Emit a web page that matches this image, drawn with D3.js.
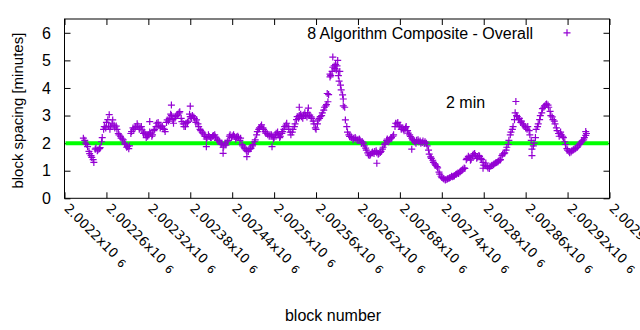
<!DOCTYPE html>
<html>
<head>
<meta charset="utf-8">
<script src="https://cdn.jsdelivr.net/npm/d3@7/dist/d3.min.js"></script>
<style>
  html, body { margin: 0; padding: 0; background: #fff; }
  svg { display: block; }
  text { font-family: "Liberation Sans", Arial, sans-serif; fill: #000; }
</style>
</head>
<body>
<svg id="chart" width="640" height="330"></svg>
<script>
// ---------------- data ----------------
const blockBase = 2002200;
const xTickValues = [2002200, 2002260, 2002320, 2002380, 2002440, 2002500, 2002560,
                     2002620, 2002680, 2002740, 2002800, 2002860, 2002920, 2002980];
const xTickMantissa = ["2.0022", "2.00226", "2.00232", "2.00238", "2.00244", "2.0025", "2.00256",
                       "2.00262", "2.00268", "2.00274", "2.0028", "2.00286", "2.00292", "2.00298"];
const yTickValues = [0, 1, 2, 3, 4, 5, 6];
const targetSpacing = 2;
const seriesName = "8 Algorithm Composite - Overall";

// block number offsets (from blockBase) and block spacing in minutes
const blockOffset = [
  27,30,33,36,39,42,45,48,51,54,57,60,63,66,69,72,75,78,81,84,87,90,93,96,99,
  102,105,108,111,114,117,120,123,126,129,132,135,138,141,144,147,150,153,156,159,
  162,165,168,171,174,177,180,183,186,189,192,195,198,201,204,207,210,213,216,219,
  222,225,228,231,234,237,240,243,246,249,252,255,258,261,264,267,270,273,276,279,
  282,285,288,291,294,297,300,303,306,309,312,315,318,321,324,327,330,333,336,339,
  342,345,348,351,354,357,360,363,366,369,372,375,378,381,384,387,390,393,396,399,
  402,405,408,411,414,417,420,423,426,429,432,435,438,441,444,447,450,453,456,459,
  462,465,468,471,474,477,480,483,486,489,492,495,498,501,504,507,510,513,516,519,
  522,525,528,531,534,537,540,543,546,549,552,555,558,561,564,567,570,573,576,579,
  582,585,588,591,594,597,600,603,606,609,612,615,618,621,624,627,630,633,636,639,
  642,645,648,651,654,657,660,663,666,669,672,675,678,681,684,687,690,693,696,699,
  702,705,708,711,714,717,720,723,726,729,732,735,738,741,744,747,
  64,153,180,227,261,203,297,336,349,384,391,376,399,447,497,646,669,599,746,122,
  380,388,394
];
const spacing = [
  2.18,2.0,1.87,1.62,1.48,1.3,1.82,1.76,1.84,2.2,2.6,2.75,2.6,2.62,2.84,2.55,2.5,2.3,2.18,2.12,1.95,1.88,1.9,2.42,2.5,
  2.6,2.62,2.55,2.48,2.4,2.2,2.3,2.36,2.3,2.5,2.72,2.65,2.6,2.54,2.42,2.84,2.9,3.0,2.72,2.96,
  3.05,3.14,2.78,2.6,2.72,2.8,2.96,3.0,2.9,2.84,2.6,2.45,2.36,2.24,2.2,2.24,2.2,2.28,2.22,2.1,
  2.05,2.0,1.9,1.93,2.1,2.3,2.26,2.24,2.22,2.2,2.18,1.9,1.8,1.72,1.78,1.82,1.95,2.12,2.42,2.55,
  2.66,2.5,2.36,2.3,2.3,2.25,2.2,2.36,2.3,2.25,2.42,2.6,2.72,2.5,2.3,2.5,2.7,2.96,3.0,2.96,
  3.02,3.0,3.1,3.02,2.9,2.7,2.5,2.84,2.96,3.1,3.3,3.4,3.76,4.45,4.75,4.7,4.8,4.25,3.93,3.6,
  2.84,2.4,2.24,2.2,2.18,2.15,2.12,2.1,2.05,1.9,1.75,1.57,1.6,1.68,1.7,1.65,1.62,1.7,1.85,2.0,
  2.15,2.12,2.2,2.3,2.72,2.75,2.65,2.55,2.45,2.6,2.36,2.24,2.12,2.05,2.1,2.05,2.0,2.08,2.05,1.9,
  1.6,1.45,1.3,1.2,1.1,0.88,0.75,0.7,0.68,0.72,0.75,0.78,0.82,0.88,0.9,0.98,1.05,1.08,1.45,1.48,
  1.42,1.6,1.55,1.5,1.52,1.4,1.2,1.28,1.1,1.15,1.2,1.25,1.3,1.35,1.4,1.6,1.65,1.85,2.1,2.4,
  2.6,3.1,2.96,2.9,2.8,2.65,2.55,2.6,2.3,1.78,2.0,2.5,2.7,3.0,3.25,3.35,3.42,3.3,3.0,2.85,
  2.7,2.45,2.25,2.3,2.2,1.95,1.75,1.65,1.72,1.78,1.82,1.9,2.0,2.08,2.2,2.35,
  3.03,3.38,3.34,1.63,1.51,1.87,1.87,3.3,3.27,5.12,5.0,3.8,3.35,1.27,1.78,3.51,1.55,1.09,2.42,2.78,
  4.5,4.85,4.6
];
// in-between blocks: [offset, spacing]
const spacingBetween = [
  [29,2.1],[32,1.95],[35,1.7],[38,1.55],[41,1.4],[44,1.78],[47,1.72],[50,1.8],[53,2.05],[56,2.5],
  [59,2.55],[62,2.85],[65,2.5],[68,2.7],[71,2.65],[74,2.62],[77,2.35],[80,2.25],[83,2.15],[86,2.0],
  [89,1.85],[92,1.8],[95,2.35],[98,2.55],[101,2.55],[104,2.7],[107,2.5],[110,2.6],[113,2.35],[116,2.3],
  [119,2.25],[122,2.4],[125,2.25],[128,2.45],[131,2.6],[134,2.75],[137,2.55],[140,2.62],[143,2.5],[146,2.75],
  [149,2.8],[152,3.05],[155,2.85],[158,2.9],[161,3.0],[164,3.1],[167,2.9],[170,2.7],[173,2.6],[176,2.75],
  [179,3.05],[182,2.9],[185,2.95],[188,2.75],[191,2.7],[194,2.5],[197,2.4],[200,2.3],[203,2.15],[206,2.3],
  [209,2.2],[212,2.25],[215,2.3],[218,2.15],[221,2.1],[224,1.95],[227,1.85],[230,2.0],[233,2.05],[236,2.25],
  [239,2.2],[242,2.3],[245,2.15],[248,2.25],[251,2.1],[254,1.95],[257,1.85],[260,1.75],[263,1.7],[266,1.8],
  [269,1.9],[272,2.05],[275,2.3],[278,2.5],[281,2.6],[284,2.55],[287,2.42],[290,2.35],[293,2.25],[296,2.3],
  [299,2.15],[302,2.3],[305,2.4],[308,2.2],[311,2.35],[314,2.5],[317,2.65],[320,2.6],[323,2.4],[326,2.4],
  [329,2.6],[332,2.85],[335,2.9],[338,3.05],[341,2.9],[344,3.1],[347,2.95],[350,3.0],[353,2.95],[356,2.8],
  [359,2.55],[362,2.7],[365,2.9],[368,3.0],[371,3.2],[374,3.35],[377,3.5],[380,4.4],[383,4.6],[386,4.8],
  [389,4.65],[392,4.45],[395,4.1],[398,3.75],[401,3.3],[404,2.6],[407,2.3],[410,2.25],[413,2.12],[416,2.2],
  [419,2.1],[422,2.15],[425,2.0],[428,2.0],[431,1.82],[434,1.65],[437,1.55],[440,1.65],[443,1.62],[446,1.72],
  [449,1.6],[452,1.66],[455,1.78],[458,1.95],[461,2.1],[464,2.05],[467,2.18],[470,2.25],[473,2.6],[476,2.7],
  [479,2.6],[482,2.5],[485,2.5],[488,2.55],[491,2.45],[494,2.3],[497,2.18],[500,2.1],[503,2.0],[506,2.12],
  [509,2.08],[512,2.02],[515,2.0],[518,2.0],[521,1.75],[524,1.5],[527,1.38],[530,1.25],[533,1.15],[536,0.95],
  [539,0.8],[542,0.72],[545,0.66],[548,0.7],[551,0.74],[554,0.8],[557,0.8],[560,0.86],[563,0.92],[566,0.95],
  [569,1.02],[572,1.1],[575,1.4],[578,1.52],[581,1.38],[584,1.55],[587,1.62],[590,1.45],[593,1.55],[596,1.45],
  [599,1.3],[602,1.18],[605,1.15],[608,1.08],[611,1.18],[614,1.22],[617,1.28],[620,1.32],[623,1.38],[626,1.55],
  [629,1.62],[632,1.75],[635,1.95],[638,2.3],[641,2.5],[644,2.85],[647,3.0],[650,2.85],[653,2.75],[656,2.7],
  [659,2.6],[662,2.5],[665,2.45],[668,2.1],[671,1.9],[674,2.2],[677,2.6],[680,2.85],[683,3.1],[686,3.3],
  [689,3.4],[692,3.38],[695,3.15],[698,2.95],[701,2.8],[704,2.55],[707,2.35],[710,2.4],[713,2.25],[716,2.05],
  [719,1.8],[722,1.7],[725,1.68],[728,1.75],[731,1.8],[734,1.85],[737,1.95],[740,2.05],[743,2.12],[746,2.28]
];

// ---------------- layout ----------------
const plot = { left: 64.5, right: 609.5, top: 19, bottom: 198.3 };
const purple = "#9400d3";
const green = "#00ff00";

const svg = d3.select("#chart");
const x = d3.scaleLinear().domain([xTickValues[0], xTickValues[xTickValues.length - 1]])
  .range([plot.left, plot.right]);
const y = d3.scaleLinear().domain([0, 6.5]).range([plot.bottom, plot.top]);

// axes with inward ticks (mirrored)
const tick = 6;
svg.append("g").attr("transform", `translate(0,${plot.bottom})`)
  .call(d3.axisBottom(x).tickValues(xTickValues).tickSize(-tick).tickFormat(""))
  .call(g => g.select(".domain").remove());
svg.append("g").attr("transform", `translate(0,${plot.top})`)
  .call(d3.axisTop(x).tickValues(xTickValues).tickSize(-tick).tickFormat(""))
  .call(g => g.select(".domain").remove());
svg.append("g").attr("transform", `translate(${plot.left},0)`)
  .call(d3.axisLeft(y).tickValues(yTickValues).tickSize(-tick).tickFormat(""))
  .call(g => g.select(".domain").remove());
svg.append("g").attr("transform", `translate(${plot.right},0)`)
  .call(d3.axisRight(y).tickValues(yTickValues).tickSize(-tick).tickFormat(""))
  .call(g => g.select(".domain").remove());
svg.selectAll(".tick line").attr("stroke", "#000").attr("stroke-width", 1);

// y tick labels
svg.append("g").selectAll("text").data(yTickValues).join("text")
  .attr("x", plot.left - 13.5).attr("y", d => y(d)).attr("dy", "0.36em")
  .attr("text-anchor", "end").style("font-size", "16px").text(d => d);

// x tick labels rotated (reading downward to the right)
const xl = svg.append("g").selectAll("text").data(xTickValues).join("text")
  .attr("transform", d => `translate(${x(d) - 1},${plot.bottom + 11}) rotate(45)`)
  .style("font-family", "'DejaVu Sans', sans-serif").style("font-size", "13px");
xl.append("tspan").text((d, i) => xTickMantissa[i] + "x10");
xl.append("tspan").attr("dx", 6).attr("dy", 1).style("font-size", "11px").text("6");

// axis titles
svg.append("text").attr("transform", `translate(23,${(plot.top + plot.bottom) / 2 + 2}) rotate(-90)`)
  .attr("text-anchor", "middle").style("font-size", "15px").text("block spacing [minutes]");
svg.append("text").attr("x", 333).attr("y", 321)
  .attr("text-anchor", "middle").style("font-size", "16px").text("block number");

// target line
svg.append("line")
  .attr("x1", plot.left + 1).attr("x2", plot.right - 1)
  .attr("y1", y(targetSpacing)).attr("y2", y(targetSpacing))
  .attr("stroke", green).attr("stroke-width", 4);

// points
const pts = blockOffset.map((o, i) => [blockBase + o, spacing[i]])
  .concat(spacingBetween.map(d => [blockBase + d[0], d[1]]));
const cross = "M-3.5,0H3.5M0,-3.5V3.5";
svg.append("g").selectAll("path").data(pts).join("path")
  .attr("transform", d => `translate(${x(d[0])},${y(d[1])})`)
  .attr("d", cross).attr("stroke", purple).attr("stroke-width", 1.2).attr("fill", "none");

// frame
svg.append("rect").attr("x", plot.left).attr("y", plot.top)
  .attr("width", plot.right - plot.left).attr("height", plot.bottom - plot.top)
  .attr("fill", "none").attr("stroke", "#000").attr("stroke-width", 1);

// legend
svg.append("text").attr("x", 533).attr("y", y(6)).attr("dy", "0.36em")
  .attr("text-anchor", "end").style("font-size", "16px").text(seriesName);
svg.append("path").attr("transform", `translate(567,${y(6)})`).attr("d", cross)
  .attr("stroke", purple).attr("stroke-width", 1.2).attr("fill", "none");

// annotation
svg.append("text").attr("x", 446).attr("y", 102).attr("dy", "0.36em")
  .style("font-size", "16px").text("2 min");
</script>
</body>
</html>
